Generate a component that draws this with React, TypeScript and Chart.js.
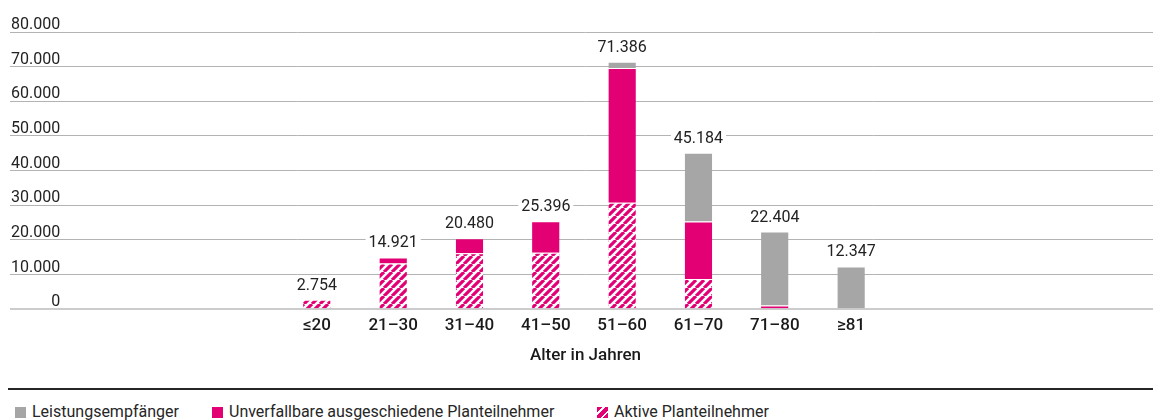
import React, { useEffect, useRef } from 'react';
import { Chart, registerables } from 'chart.js';

Chart.register(...registerables);

const categories = ['≤20', '21–30', '31–40', '41–50', '51–60', '61–70', '71–80', '≥81'];
const aktive = [2754, 13200, 16160, 16300, 30700, 8720, 0, 0];
const unverfallbar = [0, 1721, 4320, 9096, 38900, 16600, 1100, 0];
const leistung = [0, 0, 0, 0, 1786, 19864, 21304, 12347];
const yTicks = [0, 10000, 20000, 30000, 40000, 50000, 60000, 70000, 80000];
const seriesNames = ['Leistungsempfänger', 'Unverfallbare ausgeschiedene Planteilnehmer', 'Aktive Planteilnehmer'];
const axisTitle = 'Alter in Jahren';

const MAGENTA = '#e20074';
const GRAY = '#a6a6a6';
const TEXT = '#222222';
const FONT = 'Roboto, "Noto Sans", sans-serif';
const X_MIN = -4.02;
const X_MAX = 11.06;

function fmt(v: number): string {
  return String(Math.round(v)).replace(/\B(?=(\d{3})+(?!\d))/g, '.');
}

function makeHatch(): CanvasPattern | string {
  const c = document.createElement('canvas');
  c.width = 8;
  c.height = 8;
  const g = c.getContext('2d');
  if (!g) return MAGENTA;
  g.fillStyle = '#ffffff';
  g.fillRect(0, 0, 8, 8);
  g.strokeStyle = MAGENTA;
  g.lineWidth = 3.2;
  g.beginPath();
  for (const o of [-8, 0, 8]) {
    g.moveTo(o, 8);
    g.lineTo(o + 8, 0);
  }
  g.stroke();
  return g.createPattern(c, 'repeat') || MAGENTA;
}

const totalsPlugin = {
  id: 'totals',
  afterDatasetsDraw(chart: any) {
    const { ctx } = chart;
    const x = chart.scales.x;
    const y = chart.scales.y;
    ctx.save();
    ctx.font = `400 16px ${FONT}`;
    ctx.textAlign = 'center';
    ctx.textBaseline = 'alphabetic';
    categories.forEach((_, i) => {
      const total = aktive[i] + unverfallbar[i] + leistung[i];
      const px = x.getPixelForValue(i);
      const py = y.getPixelForValue(total);
      const t = fmt(total);
      const w = ctx.measureText(t).width;
      const base = py - 10;
      ctx.fillStyle = '#ffffff';
      ctx.fillRect(px - w / 2 - 3, base - 14, w + 6, 18);
      ctx.fillStyle = TEXT;
      ctx.fillText(t, px, base);
    });
    ctx.restore();
  },
};

const pts = (arr: number[]) => arr.map((v, i) => ({ x: i, y: v }));

export default function App() {
  const ref = useRef<HTMLCanvasElement | null>(null);

  useEffect(() => {
    document.documentElement.style.overflow = 'hidden';
    let chart: Chart | null = null;
    let cancelled = false;
    const build = () => {
      if (cancelled || !ref.current) return;
      Chart.defaults.font.family = FONT;
      Chart.defaults.color = TEXT;
      const hatch = makeHatch();
      chart = new Chart(ref.current, {
        type: 'bar',
        data: {
          datasets: [
            { label: seriesNames[2], data: pts(aktive) as any, backgroundColor: hatch as any },
            { label: seriesNames[1], data: pts(unverfallbar) as any, backgroundColor: MAGENTA },
            { label: seriesNames[0], data: pts(leistung) as any, backgroundColor: GRAY },
          ],
        },
        options: {
          animation: false,
          responsive: true,
          maintainAspectRatio: false,
          layout: { padding: { top: 24, bottom: 10, left: 0, right: 0 } },
          plugins: { legend: { display: false }, tooltip: { enabled: false } },
          datasets: {
            bar: {
              categoryPercentage: 1,
              barPercentage: 0.36,
              borderColor: '#ffffff',
              borderWidth: { top: 1, left: 0, right: 0, bottom: 0 },
              borderSkipped: 'start',
            },
          } as any,
          scales: {
            x: {
              type: 'linear',
              stacked: true,
              bounds: 'data',
              offset: false,
              min: X_MIN,
              max: X_MAX,
              grid: { display: false },
              border: { display: false },
              afterBuildTicks: (s: any) => {
                s.ticks = categories.map((_, i) => ({ value: i }));
                s.min = X_MIN;
                s.max = X_MAX;
              },
              ticks: {
                callback: (v: any) => categories[v as number] ?? '',
                padding: -2,
                autoSkip: false,
                maxRotation: 0,
                font: { size: 17, weight: '500' as any },
                color: '#1a1a1a',
              },
              title: {
                display: true,
                text: axisTitle,
                padding: { top: 12, bottom: 4 },
                font: { size: 17, weight: '500' as any },
                color: '#1a1a1a',
              },
            },
            y: {
              stacked: true,
              min: 0,
              max: 80000,
              border: { display: false },
              grid: {
                drawTicks: false,
                color: (c: any) => (c.tick && c.tick.value === 0 ? '#cccccc' : '#b3b3b3'),
                lineWidth: (c: any) => (c.tick && c.tick.value === 0 ? 2 : 1),
              },
              afterBuildTicks: (s: any) => {
                s.ticks = yTicks.map((v) => ({ value: v }));
              },
              ticks: {
                mirror: true,
                crossAlign: 'far',
                padding: 1,
                labelOffset: -7,
                callback: (v: any) => fmt(Number(v)),
                font: { size: 16 },
                color: TEXT,
              },
            },
          },
        },
        plugins: [totalsPlugin],
      });
    };
    const fontsApi = (document as any).fonts;
    if (fontsApi && fontsApi.load) {
      Promise.all([
        fontsApi.load(`16px Roboto`),
        fontsApi.load(`500 17px Roboto`),
      ]).then(build, build);
    } else {
      build();
    }
    return () => {
      cancelled = true;
      if (chart) chart.destroy();
    };
  }, []);

  const legendItems = [
    { name: seriesNames[0], bg: GRAY, left: 7 },
    { name: seriesNames[1], bg: MAGENTA, left: 204 },
    {
      name: seriesNames[2],
      bg: `repeating-linear-gradient(135deg, ${MAGENTA} 0 4px, #ffffff 4px 6px)`,
      left: 589,
    },
  ];

  return (
    <div style={{ width: 1153, fontFamily: FONT }}>
      <div style={{ position: 'relative', height: 372 }}>
        <canvas ref={ref} />
      </div>
      <div
        style={{
          position: 'relative',
          marginTop: 8,
          borderTop: '2px solid #262626',
          height: 40,
          fontSize: 16,
          lineHeight: '20px',
          color: '#262626',
        }}
      >
        {legendItems.map((it) => (
          <span
            key={it.name}
            style={{
              position: 'absolute',
              top: 12,
              left: it.left,
              display: 'flex',
              alignItems: 'center',
              whiteSpace: 'nowrap',
            }}
          >
            <span style={{ display: 'inline-block', width: 11, height: 11, background: it.bg, marginRight: 6 }} />
            {it.name}
          </span>
        ))}
      </div>
    </div>
  );
}
